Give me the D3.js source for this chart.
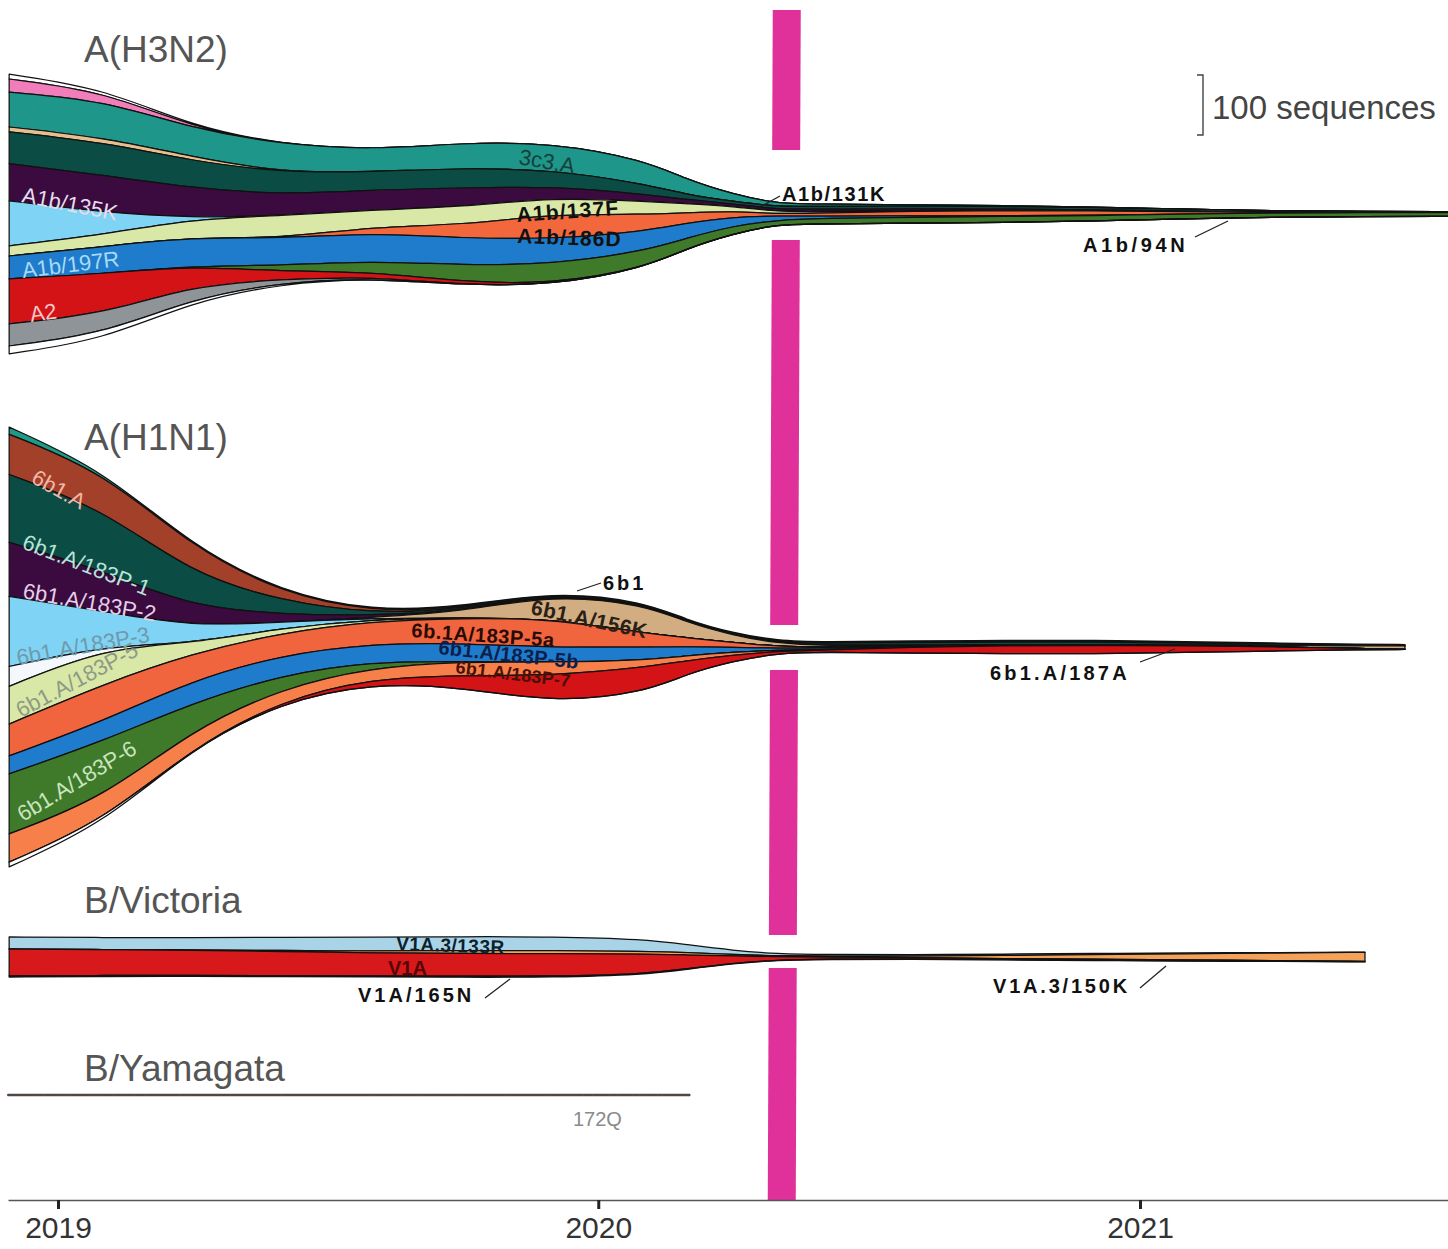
<!DOCTYPE html>
<html><head><meta charset="utf-8">
<script src="https://cdn.jsdelivr.net/npm/d3@7"></script>
<style>
html,body{margin:0;padding:0;background:#fff;}
svg{display:block;font-family:"Liberation Sans",Arial,Helvetica,sans-serif;}
</style></head><body>
<svg id="chart" width="1448" height="1249"></svg>
<script>
// ---------------- DATA (sequence counts, smoothed) ----------------
const h3n2Dates = ["2018-11-29","2019-02-01","2019-04-01","2019-06-01","2019-08-01","2019-10-01","2019-12-01","2020-02-01","2020-03-01","2020-04-01","2020-05-01","2020-06-01","2020-08-01","2020-10-01","2020-12-01","2021-02-01","2021-04-01","2021-06-01","2021-07-31"];
const h3n2Clades = ["other-top","pink","3c3.A","tan","A1b/131K","A1b/135K","ltblue","A1b/137F","A1b/186D","A1b/197R","A1b/94N","A2","gray","other-bottom"];
const h3n2Counts = [
  [8,5,2,0,0,0,0,0,0,0,0,0,0,0,0,0,0,0,0],
  [22,15,2,0,0,0,0,0,0,0,0,0,0,0,0,0,0,0,0],
  [58,62,47,47,37,42,45,40,25,12,5,3.3,2,1.7,1,0,0,0,0],
  [8,8,7,0,0,0,0,0,0,0,0,0,0,0,0,0,0,0,0],
  [53,55,45,37,30,33,28,17,8,4,4.5,5,4.5,4,3.5,3,2.5,2,1.5],
  [62,62,50,35,33,32,18,12,7,4,4,4,3,2.5,2,1,0,0,0],
  [75,37,2,0,0,0,0,0,0,0,0,0,0,0,0,0,0,0,0],
  [17,20,30,38,28,30,28,22,15,8,3.3,2.5,1,0.5,0,0,0,0,0],
  [0,0,0,0,10,22,42,28,17,10,3.3,5,8,8.5,7,4,1,0,0],
  [38,45,48,45,47,45,42,33,25,15,6.7,4,2,1.2,1,0,0,0,0],
  [0,0,0,10,18,28,33,28,17,13,6.7,9,10,10,9,8,7,6.5,6],
  [75,67,33,13,8,5,2,0,0,0,0,0,0,0,0,0,0,0,0],
  [37,33,22,5,3,0,0,0,0,0,0,0,0,0,0,0,0,0,0],
  [13,10,5,2,0,0,0,0,0,0,0,0,0,0,0,0,0,0,0]
];

const h1n1Dates = ["2018-11-29","2019-02-01","2019-04-01","2019-06-01","2019-08-01","2019-10-01","2019-12-01","2020-02-01","2020-03-01","2020-04-01","2020-05-01","2020-06-01","2020-08-01","2020-10-01","2020-12-01","2021-02-01","2021-04-01","2021-06-01","2021-06-29"];
const h1n1Clades = ["6b1","6b1.A","6b1.A/183P-1","6b1.A/183P-2","6b1.A/156K","6b1.A/183P-3","other","6b1.A/183P-5","6b1.A/183P-5a","6b1.A/183P-5b","6b1.A/183P-6","6b1.A/183P-7","6b1.A/187A","other-bottom"];
const h1n1Counts = [
  [12,3,2,2,2,2,2,2,1.5,1.5,1.5,1.7,1.7,1.7,1.7,1.5,1.2,1,1],
  [67,62,45,13,3,2,1.2,0.8,0.8,0.8,0.8,1.2,1.2,1.2,1.2,1,0.8,0.5,0.5],
  [113,103,55,22,3,2.5,1.7,1.7,1.2,1.2,1.7,3,4,4,4,3.3,2.5,1.2,0.8],
  [90,67,33,13,3,1.7,0.8,0.8,0.5,0.5,0.5,0.5,0.5,0.5,0.5,0,0,0,0],
  [0,0,0,0,1.7,10,40,48,25,12,5,2.5,0.8,0.8,0.8,1,2,4.5,6],
  [117,58,28,10,1.7,0,0,0,0,0,0,0,0,0,0,0,0,0,0],
  [33,3,0,0,0,0,0,0,0,0,0,0,0,0,0,0,0,0,0],
  [63,60,17,8,3,0.8,0,0,0,0,0,0,0,0,0,0,0,0,0],
  [53,62,45,37,37,42,48,23,15,8,3,1.7,0.5,0,0,0,0,0,0],
  [30,33,38,33,30,30,25,22,15,8,3.3,2.5,1.7,0.8,0.5,0,0,0,0],
  [100,95,45,22,10,0,0,0,0,0,0,0,0,0,0,0,0,0,0],
  [47,38,30,20,18,23,22,12,8,5,1.7,0.8,0,0,0,0,0,0,0],
  [0,0,0,3,8,20,45,42,22,10,3.3,3,10,13,14,11,7,2,0],
  [8,5,0,0,0,0,0,0,0,0,0,0,0,0,0,0,0,0,0]
];

const vicDates = ["2018-11-29","2019-02-01","2019-04-01","2019-06-01","2019-08-01","2019-10-01","2019-12-01","2020-02-01","2020-03-01","2020-04-01","2020-05-01","2020-06-01","2020-08-01","2020-10-01","2020-12-01","2021-02-01","2021-04-01","2021-06-02"];
const vicClades = ["V1A.3/133R","V1A.3/150K","V1A","V1A/165N"];
const vicCounts = [
  [20,20,20,22,23,23,23,20,13,6.7,3.3,2.5,2.5,2.5,1.7,1.7,0.8,0.5],
  [0,0,0.8,1.7,3.3,5,5,5,4.2,2.5,1.7,1.7,2.5,5,8,10,12.5,15],
  [45,43,42,40,38,38,38,33,23,12,5,3.3,2.5,1.7,1.7,1.7,0.8,0.5],
  [1.7,1.7,1.7,1.7,1.7,1.7,1.7,1.3,0.8,0.7,0.5,0.5,0.5,0.5,0.5,0.5,0.5,0.5]
];

const yamDates = ["2018-11-28","2019-04-01","2019-08-01","2019-12-01","2020-03-03"];
const yamClades = ["172Q"];
const yamCounts = [[2.5,2.5,2.5,2.5,2.5]];

const yearTicks = ["2019-01-01","2020-01-01","2021-01-01"];
const scaleBarSequences = 100;
const markerDate = "2020-05-06";

// ---------------- STYLE ----------------
const colors = {
  h3n2: ["#ffffff","#f27dbb","#1e968a","#e6bf8f","#0b4d45","#3b0a3f","#7fd3f5","#d9e8a6","#f2683c","#1f7ccc","#3f7a2a","#d41317","#8f9499","#ffffff"],
  h1n1: ["#1f9a86","#a3402a","#0b4d45","#3b0a3f","#d2ad82","#7fd3f5","#f4f8fc","#d9e8a6","#f0643e","#1f7ccc","#3f7a2a","#f7804a","#d41317","#ffffff"],
  vic: ["#a9d3e6","#f4a259","#d7191c","#6b1a1a"],
  yam: ["#5e4a45"]
};

const parse = d3.timeParse("%Y-%m-%d");
const svg = d3.select("#chart");

const x = d3.scaleTime().domain([parse("2019-01-01"), parse("2021-01-01")]).range([58, 1140]);
const pxPerSeq = 0.6;
const seq = d3.scaleLinear().domain([0, 100]).range([0, 100 * pxPerSeq]);

function stream(dates, clades, counts, fills, centerY, opts = {}) {
  const rows = dates.map((d, i) => {
    const o = { date: parse(d) };
    clades.forEach((c, j) => o[c] = counts[j][i]);
    return o;
  });
  const stack = d3.stack().keys(clades).offset(d3.stackOffsetSilhouette).order(d3.stackOrderNone);
  const series = stack(rows);
  const area = d3.area()
    .x(d => x(d.data.date))
    .y0(d => centerY + seq(d[0]))
    .y1(d => centerY + seq(d[1]))
    .curve(d3.curveBasis);
  const g = svg.append("g");
  g.selectAll("path").data(series).join("path")
    .attr("d", area)
    .attr("fill", (d, i) => fills[i])
    .attr("stroke", opts.stroke || "#111")
    .attr("stroke-width", opts.sw || 1.25)
    .attr("stroke-linejoin", "round");
  return g;
}

// ---------------- marker bar ----------------
const mx = x(parse(markerDate));
const barSegs = [[10,150],[240,625],[670,935],[968,1200]];
const bx = y => mx + 2 - 5 * (y - 10) / 1190;
svg.append("g").selectAll("polygon").data(barSegs).join("polygon")
  .attr("points", d => [[bx(d[0]) - 14, d[0]], [bx(d[0]) + 14, d[0]], [bx(d[1]) + 14, d[1]], [bx(d[1]) - 14, d[1]]].map(p => p.join(",")).join(" "))
  .attr("fill", "#e0309a");

// ---------------- streams ----------------
stream(h3n2Dates, h3n2Clades, h3n2Counts, colors.h3n2, 214);
stream(h1n1Dates, h1n1Clades, h1n1Counts, colors.h1n1, 647);
stream(vicDates, vicClades, vicCounts, colors.vic, 957);
stream(yamDates, yamClades, yamCounts, colors.yam, 1095, { stroke: "#3a302d", sw: 0.9 });

// ---------------- titles ----------------
const titles = [
  { t: "A(H3N2)", x: 84, y: 62 },
  { t: "A(H1N1)", x: 84, y: 450 },
  { t: "B/Victoria", x: 84, y: 913 },
  { t: "B/Yamagata", x: 84, y: 1081 }
];
svg.append("g").selectAll("text").data(titles).join("text")
  .attr("x", d => d.x).attr("y", d => d.y).text(d => d.t)
  .attr("font-size", 37).attr("fill", "#555");

// ---------------- scale bar ----------------
const sb = svg.append("g").attr("stroke", "#444").attr("stroke-width", 1.4).attr("fill", "none");
const sbTop = 75, sbX = 1203;
sb.append("path").attr("d", `M${sbX - 6},${sbTop}H${sbX}V${sbTop + seq(scaleBarSequences)}H${sbX - 6}`);
svg.append("text").attr("x", 1212).attr("y", 119).text(scaleBarSequences + " sequences")
  .attr("font-size", 33).attr("fill", "#444");

// ---------------- clade labels ----------------
const labels = [
  { t: "A1b/135K", x: 21, y: 202, r: 11, s: 22, w: 400, f: "#e6dcec" },
  { t: "A1b/197R", x: 23, y: 278, r: -7, s: 22, w: 400, f: "#a8daf5" },
  { t: "A2", x: 31, y: 322, r: -8, s: 22, w: 400, f: "#f5c6c6" },
  { t: "3c3.A", x: 518, y: 164, r: 10, s: 22, w: 400, f: "#173f3a" },
  { t: "A1b/137F", x: 517, y: 222, r: -4, s: 21, w: 700, f: "#111", ls: 1.2 },
  { t: "A1b/186D", x: 517, y: 243, r: 2, s: 21, w: 700, f: "#111", ls: 1.1 },
  { t: "A1b/131K", x: 782, y: 201, r: 0, s: 20, w: 700, f: "#111", ls: 1.6 },
  { t: "A1b/94N", x: 1083, y: 252, r: 0, s: 20, w: 700, f: "#111", ls: 3.6 },
  { t: "6b1.A", x: 30, y: 482, r: 29, s: 22, w: 400, f: "#f2b7a8" },
  { t: "6b1.A/183P-1", x: 21, y: 548, r: 21, s: 22, w: 400, f: "#b7e3d9" },
  { t: "6b1.A/183P-2", x: 22, y: 598, r: 10, s: 22, w: 400, f: "#e4cfe8" },
  { t: "6b1.A/183P-3", x: 18, y: 665, r: -10, s: 22, w: 400, f: "#6f9aab" },
  { t: "6b1.A/183P-5", x: 21, y: 718, r: -28, s: 22, w: 400, f: "#8d9b86" },
  { t: "6b1.A/183P-6", x: 23, y: 822, r: -31, s: 22, w: 400, f: "#c9e5bf" },
  { t: "6b1", x: 603, y: 590, r: 0, s: 20, w: 700, f: "#111", ls: 3 },
  { t: "6b1.A/156K", x: 530, y: 614, r: 12, s: 21, w: 700, f: "#2a2015", ls: 0.5 },
  { t: "6b.1A/183P-5a", x: 411, y: 637, r: 4, s: 20, w: 700, f: "#2a0a05", ls: 0.6 },
  { t: "6b1.A/183P-5b", x: 438, y: 654, r: 6, s: 20, w: 700, f: "#0d1f4d", ls: 0.3 },
  { t: "6b1.A/183P-7", x: 455, y: 673, r: 7, s: 18, w: 700, f: "#4a1005", ls: 0.3 },
  { t: "6b1.A/187A", x: 990, y: 680, r: 0, s: 20, w: 700, f: "#111", ls: 3.2 },
  { t: "V1A.3/133R", x: 396, y: 950, r: 2, s: 19, w: 700, f: "#0d1f2d", ls: 0.5 },
  { t: "V1A", x: 388, y: 975, r: 0, s: 20, w: 700, f: "#5a0505" },
  { t: "V1A/165N", x: 358, y: 1002, r: 0, s: 20, w: 700, f: "#111", ls: 3 },
  { t: "V1A.3/150K", x: 993, y: 993, r: 0, s: 20, w: 700, f: "#111", ls: 2.8 },
  { t: "172Q", x: 573, y: 1126, r: 0, s: 20, w: 400, f: "#8a8a8a" }
];
svg.append("g").selectAll("text").data(labels).join("text")
  .attr("transform", d => `translate(${d.x},${d.y}) rotate(${d.r})`)
  .attr("font-size", d => d.s).attr("font-weight", d => d.w)
  .attr("letter-spacing", d => d.ls || 0)
  .attr("fill", d => d.f).text(d => d.t);

const pointers = [
  [762, 206, 780, 196],
  [1195, 237, 1228, 221],
  [577, 591, 601, 583],
  [1140, 662, 1175, 649],
  [485, 998, 510, 979],
  [1140, 988, 1166, 966]
];
svg.append("g").selectAll("line").data(pointers).join("line")
  .attr("x1", d => d[0]).attr("y1", d => d[1]).attr("x2", d => d[2]).attr("y2", d => d[3])
  .attr("stroke", "#222").attr("stroke-width", 1.3);

// ---------------- axis ----------------
const xAxisScale = x.copy().domain([x.invert(8), x.invert(1448)]).range([8, 1448]);
const axis = d3.axisBottom(xAxisScale)
  .tickValues(yearTicks.map(parse))
  .tickFormat(d3.timeFormat("%Y"))
  .tickSize(9).tickPadding(8).tickSizeOuter(0);
const ag = svg.append("g").attr("transform", "translate(0,1200)").call(axis);
ag.select(".domain").attr("stroke", "#555").attr("stroke-width", 1.6);
ag.selectAll(".tick line").attr("stroke", "#222").attr("stroke-width", 3);
ag.selectAll(".tick text").attr("font-size", 30).attr("fill", "#333")
  .attr("font-family", '"Liberation Sans",Arial,sans-serif');
</script>
</body></html>
